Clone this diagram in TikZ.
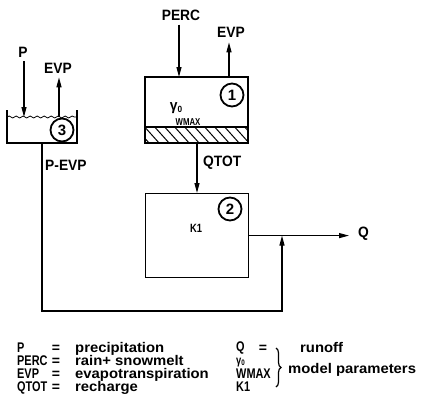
\documentclass[tikz,border=0pt]{standalone}
\usepackage{fontspec}
\setmainfont{Liberation Sans}
\newfontfamily\capsfont[FakeStretch=0.78]{Liberation Sans}
\newfontfamily\labfont[FakeStretch=0.92]{Liberation Sans}
\newfontfamily\legfont[FakeStretch=1.06]{Liberation Sans}
\usetikzlibrary{arrows.meta,decorations.pathmorphing,decorations.pathreplacing}
\begin{document}
\begin{tikzpicture}[x=1pt,y=-1pt,
  every node/.style={inner sep=0pt, font=\labfont\bfseries\fontsize{15}{15}\selectfont},
  line/.style={line width=1.2pt},
  arr/.style={line width=1.2pt,-{Triangle[length=10pt,width=5pt]}},
  num/.style={circle, draw, line width=1.8pt, minimum size=23pt, fill=white, font=\bfseries\fontsize{15}{15}\selectfont},
  small/.style={font=\capsfont\bfseries\fontsize{10}{10}\selectfont},
  leg/.style={anchor=base west, font=\legfont\bfseries\fontsize{14}{14}\selectfont},
  legk/.style={anchor=base west, font=\capsfont\bfseries\fontsize{14}{14}\selectfont},
  legc/.style={anchor=base, font=\bfseries\fontsize{14}{14}\selectfont}]
\useasboundingbox (0,0) rectangle (437,415);

% ---- box 1 ----
\node[draw, line, minimum width=102pt, minimum height=65pt, anchor=north west] (b1) at (145,77) {};
\begin{scope}
  \clip (145,127) rectangle (247,142);
  \foreach \i in {0,...,12} \draw[line width=1pt] (132+\i*10,124) -- ++(18,20);
\end{scope}
\draw[line] (145,127) -- (247,127);
\draw[line] (b1.north west) rectangle (b1.south east);
\node[num] (c1) at (232,95) {1};
\node (g1) at (176,108) {γ\raisebox{-2pt}{\fontsize{9}{9}\selectfont 0}};
\node[small] (wm1) at (188,122) {WMAX};

\node (perc) at (181,15) {PERC};
\coordinate (percin) at (179,77);
\draw[arr, shorten <=4pt] (perc.south -| percin) -- (percin);
\node (evp1) at (231,32) {EVP};
\coordinate (evp1out) at (229,77);
\draw[arr, shorten >=5pt] (evp1out) -- (evp1.south -| evp1out);

% ---- box 2 ----
\node[draw, line, minimum width=103pt, minimum height=84pt, anchor=north west] (b2) at (145,193) {};
\node[num] (c2) at (230,209) {2};
\node[font=\capsfont\bfseries\fontsize{12}{12}\selectfont] (k1) at (196,228) {K1};
\coordinate (qt1) at (197,142);
\coordinate (qt2) at (197,193);
\draw[arr] (qt1) -- (qt2);
\node[anchor=west] (qtot) at (203,163) {QTOT};

\node[anchor=west] (Q) at (358,234) {Q};
\draw[arr, shorten >=9pt] (b2.east) -- (Q.west |- b2.east);

% ---- tank 3 ----
\coordinate (t1) at (7,110);
\coordinate (t2) at (7,143);
\coordinate (t3) at (77,143);
\coordinate (t4) at (77,110);
\draw[line] (t1) -- (t2) -- (t3) -- (t4);
\draw[line width=0.8pt, decorate, decoration={snake, segment length=7pt, amplitude=1pt}] (7,117) -- (77,117);
\node[num] (c3) at (62,130) {3};
\node (p) at (23,52) {P};
\coordinate (pin) at (24,117);
\draw[arr, shorten <=4pt] (p.south -| pin) -- (pin);
\node (evp3) at (58,68) {EVP};
\coordinate (evp3out) at (59,117);
\draw[arr, shorten >=4pt] (evp3out) -- (evp3.south -| evp3out);

\coordinate (o1) at (42,143);
\coordinate (o2) at (42,311);
\coordinate (o3) at (282,311);
\draw[arr] (o1) -- (o2) -- (o3) -- (o3 |- b2.east);
\node[anchor=west] (pevp) at (45,165) {P-EVP};

% ---- legend ----
\node[legk] (l1a) at (17,352) {P};
\node[legc] (l1b) at (56,352) {=};
\node[leg] (l1c) at (75,352) {precipitation};
\node[legk] (l2a) at (17,365) {PERC};
\node[legc] (l2b) at (56,365) {=};
\node[leg] (l2c) at (75,365) {rain+ snowmelt};
\node[legk] (l3a) at (17,378) {EVP};
\node[legc] (l3b) at (56,378) {=};
\node[leg] (l3c) at (75,378) {evapotranspiration};
\node[legk] (l4a) at (17,391) {QTOT};
\node[legc] (l4b) at (56,391) {=};
\node[leg] (l4c) at (75,391) {recharge};

\node[legk] (r1a) at (236,351) {Q};
\node[legc] (r1b) at (263,352) {=};
\node[leg] (r1c) at (300,352) {runoff};
\node[legk, font=\capsfont\bfseries\fontsize{12}{12}\selectfont] (r2a) at (236,364) {γ\raisebox{-1pt}{\fontsize{8}{8}\selectfont 0}};
\node[legk] (r3a) at (236,378) {WMAX};
\node[legk] (r4a) at (236,391) {K1};
\coordinate (br1) at (276,348);
\coordinate (br2) at (276,387);
\draw[line, decorate, decoration={brace, amplitude=5pt}] (br1) -- (br2);
\node[leg] (mp) at (288,373) {model parameters};
\end{tikzpicture}
\end{document}
